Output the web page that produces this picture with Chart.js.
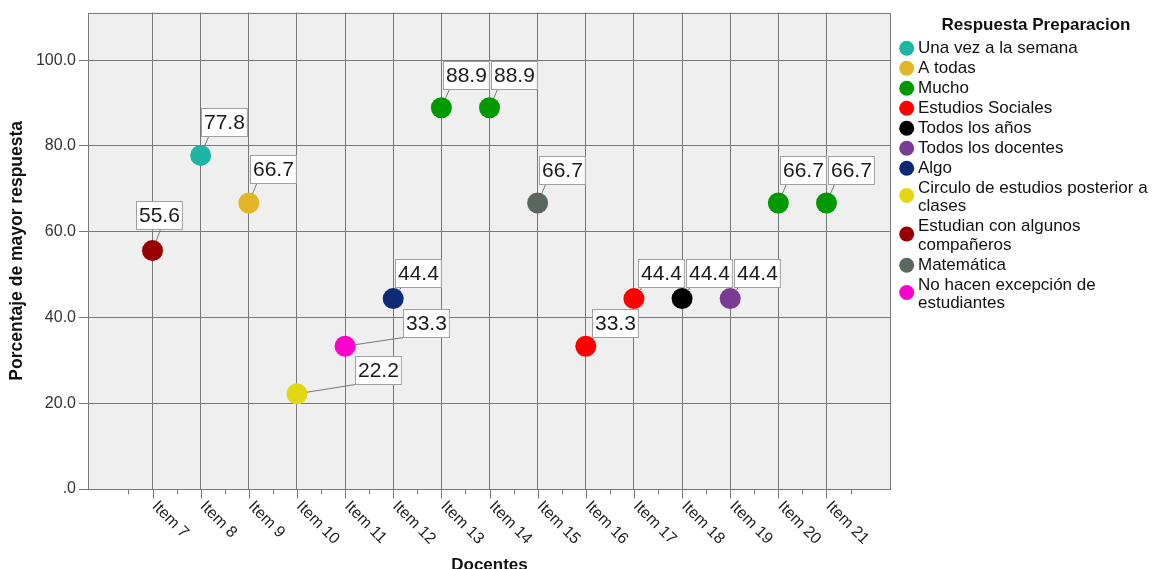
<!DOCTYPE html>
<html>
<head>
<meta charset="utf-8">
<script src="https://cdn.jsdelivr.net/npm/chart.js@4.4.0/dist/chart.umd.min.js"></script>
<style>
  html, body { margin: 0; padding: 0; background: #fff; }
  #wrap { width: 1164px; height: 569px; position: relative; }
</style>
</head>
<body>
<div id="wrap"><canvas id="grafico"></canvas></div>
<script>
// --------------- datos --------------- //
const items = ['Item 7', 'Item 8', 'Item 9', 'Item 10', 'Item 11', 'Item 12', 'Item 13',
  'Item 14', 'Item 15', 'Item 16', 'Item 17', 'Item 18', 'Item 19', 'Item 20', 'Item 21'];

const porcentajes = [55.6, 77.8, 66.7, 22.2, 33.3, 44.4, 88.9, 88.9, 66.7, 33.3, 44.4, 44.4, 44.4, 66.7, 66.7];

const respuestas = [
  'Estudian con algunos compañeros',
  'Una vez a la semana',
  'A todas',
  'Circulo de estudios posterior a clases',
  'No hacen excepción de estudiantes',
  'Algo',
  'Mucho',
  'Mucho',
  'Matemática',
  'Estudios Sociales',
  'Estudios Sociales',
  'Todos los años',
  'Todos los docentes',
  'Mucho',
  'Mucho'
];

const categorias = [
  'Una vez a la semana',
  'A todas',
  'Mucho',
  'Estudios Sociales',
  'Todos los años',
  'Todos los docentes',
  'Algo',
  'Circulo de estudios posterior a clases',
  'Estudian con algunos compañeros',
  'Matemática',
  'No hacen excepción de estudiantes'
];

const yTicks = [0, 20, 40, 60, 80, 100];

// --------------- estilo --------------- //
const colores = ['#1db6a5', '#e1b526', '#009a00', '#ff0000', '#000000', '#7a3b93',
  '#0d2a77', '#e3d714', '#990000', '#5a665f', '#ff00cc'];

// caja de etiqueta: [desplazamiento x del borde izq., desplazamiento y del borde inferior]
const posEtiquetas = [[-17, -21.5], [0, -19.5], [1, -19.5], [58, -10], [58, -9.5], [2, -12], [1.5, -19],
  [1.5, -19], [1, -19], [6.5, -9.5], [4, -12], [4, -12], [4, -12], [1.5, -19], [1.5, -19]];

const FONT = "'Liberation Sans', Arial, sans-serif";
const GRID = '#787878';

const datasets = categorias.map((cat, c) => ({
  label: cat,
  data: respuestas.map((r, i) => r === cat ? { x: i, y: porcentajes[i] } : null).filter(p => p),
  backgroundColor: colores[c],
  borderWidth: 0,
  pointRadius: 10.5,
  pointHoverRadius: 10.5
}));

// fondo, bordes, etiquetas y leyenda
const dibujoPlugin = {
  id: 'dibujo',
  beforeDraw(chart) {
    const { ctx, chartArea: a } = chart;
    ctx.save();
    ctx.fillStyle = '#efefef';
    ctx.fillRect(a.left, a.top, a.right - a.left, a.bottom - a.top);
    ctx.restore();
  },
  afterDatasetsDraw(chart) {
    const { ctx, chartArea: a, scales } = chart;
    const xs = scales.x, ys = scales.y;
    ctx.save();

    // borde del area
    ctx.strokeStyle = GRID;
    ctx.lineWidth = 1;
    ctx.strokeRect(Math.round(a.left) + 0.5, Math.round(a.top) + 0.5,
      Math.round(a.right - a.left) - 1, Math.round(a.bottom - a.top));

    // marcas del eje x
    const yb = Math.round(a.bottom) + 0.5;
    ctx.beginPath();
    for (let v = -0.5; v <= items.length - 0.5; v += 0.5) {
      const px = Math.round(xs.getPixelForValue(v)) + 0.5;
      ctx.moveTo(px, yb);
      ctx.lineTo(px, yb + (Number.isInteger(v) ? 9 : 5));
    }
    ctx.stroke();

    // etiquetas del eje x
    ctx.fillStyle = '#1e1e1e';
    ctx.font = '16px ' + FONT;
    ctx.textAlign = 'left';
    ctx.textBaseline = 'middle';
    items.forEach((it, i) => {
      const px = xs.getPixelForValue(i);
      ctx.save();
      ctx.translate(px + 2, a.bottom + 15);
      ctx.rotate(Math.PI / 4);
      ctx.fillText(it, 0, 0);
      ctx.restore();
    });

    // titulos de ejes
    ctx.fillStyle = '#111';
    ctx.textAlign = 'center';
    ctx.font = 'bold 17px ' + FONT;
    ctx.fillText('Docentes', (a.left + a.right) / 2, 565);
    ctx.save();
    ctx.font = 'bold 17.5px ' + FONT;
    ctx.translate(17, (a.top + a.bottom) / 2);
    ctx.rotate(-Math.PI / 2);
    ctx.fillText('Porcentaje de mayor respuesta', 0, 0);
    ctx.restore();

    // etiquetas de datos
    ctx.font = '21px ' + FONT;
    porcentajes.forEach((v, i) => {
      const px = xs.getPixelForValue(i), py = ys.getPixelForValue(v);
      const txt = v.toFixed(1);
      const w = ctx.measureText(txt).width + 5, h = 28;
      const bx = Math.round(px + posEtiquetas[i][0]) + 0.5;
      const bb = Math.round(py + posEtiquetas[i][1]) + 0.5;
      // linea guia
      const tx = Math.max(bx, px + 8), ty = bb;
      const d = Math.hypot(tx - px, ty - py);
      if (d > 11) {
        ctx.strokeStyle = '#777';
        ctx.beginPath();
        ctx.moveTo(px + (tx - px) / d * 10, py + (ty - py) / d * 10);
        ctx.lineTo(tx, ty);
        ctx.stroke();
      }
      ctx.fillStyle = '#fff';
      ctx.fillRect(bx, bb - h, w, h);
      ctx.strokeStyle = '#a0a0a0';
      ctx.strokeRect(bx, bb - h, w, h);
      ctx.fillStyle = '#1a1a1a';
      ctx.textAlign = 'center';
      ctx.textBaseline = 'middle';
      ctx.fillText(txt, bx + w / 2, bb - h / 2 + 1);
    });

    // leyenda
    ctx.fillStyle = '#111';
    ctx.font = 'bold 17px ' + FONT;
    ctx.textAlign = 'center';
    ctx.fillText('Respuesta Preparacion', 1036, 25);
    ctx.font = '17px ' + FONT;
    ctx.textAlign = 'left';
    const maxW = 1164 - 918;
    let y = 48.3;
    categorias.forEach((cat, c) => {
      const palabras = cat.split(' ');
      const lineas = [];
      let linea = '';
      palabras.forEach(p => {
        const prueba = linea ? linea + ' ' + p : p;
        if (ctx.measureText(prueba).width > maxW && linea) {
          lineas.push(linea);
          linea = p;
        } else {
          linea = prueba;
        }
      });
      lineas.push(linea);
      const my = y + (lineas.length - 1) * 18.5 / 2 - (lineas.length > 1 ? 2 : 0);
      ctx.fillStyle = colores[c];
      ctx.beginPath();
      ctx.arc(906.7, my, 7.5, 0, Math.PI * 2);
      ctx.fill();
      ctx.fillStyle = '#111';
      lineas.forEach((l, j) => ctx.fillText(l, 918, y + j * 18.5));
      y += (lineas.length - 1) * 18.5 + 20;
    });

    ctx.restore();
  }
};

const config = {
  type: 'scatter',
  data: { datasets: datasets },
  plugins: [dibujoPlugin],
  options: {
    responsive: true,
    maintainAspectRatio: false,
    animation: false,
    layout: { padding: { top: 12.5, right: 273, left: 0, bottom: 0 } },
    plugins: {
      legend: { display: false },
      tooltip: { enabled: false }
    },
    scales: {
      x: {
        type: 'linear',
        min: -1.34,
        max: items.length - 1 + 1.34,
        afterBuildTicks: s => { s.ticks = items.map((_, i) => ({ value: i })); },
        afterFit: s => { s.height = 80; },
        ticks: { display: false },
        grid: { color: GRID, drawTicks: false },
        border: { display: false }
      },
      y: {
        min: 0,
        max: 111.1,
        afterBuildTicks: s => { s.ticks = yTicks.map(v => ({ value: v })); },
        afterFit: s => { s.width = 88; },
        ticks: {
          color: '#333',
          padding: 3,
          font: { family: FONT, size: 16 },
          callback: v => v === 0 ? '.0' : v.toFixed(1)
        },
        grid: { color: GRID, tickColor: GRID, tickLength: 9 },
        border: { display: false }
      }
    }
  }
};

const grafico = new Chart(document.getElementById('grafico'), config);
</script>
</body>
</html>
